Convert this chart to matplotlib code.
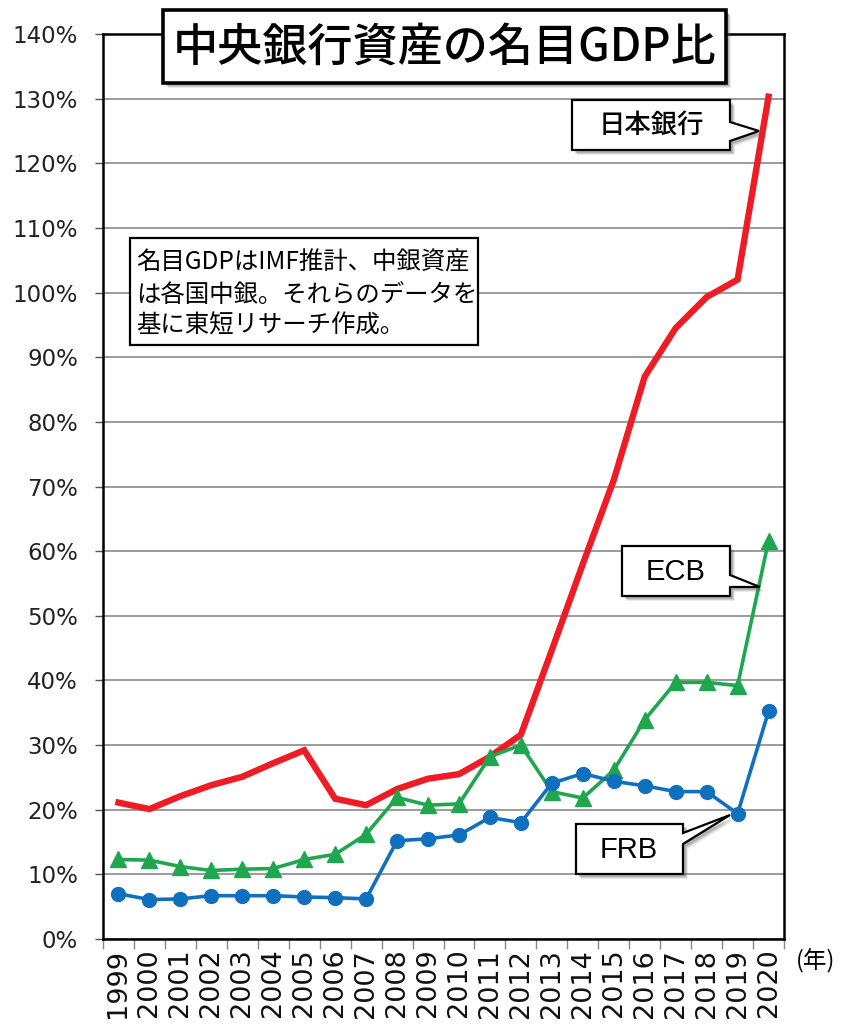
import matplotlib
matplotlib.use("Agg")
import matplotlib.pyplot as plt
from matplotlib.patches import Polygon, Rectangle

plt.rcParams['font.family'] = ['DejaVu Sans', 'Noto Sans CJK JP']

years = [str(y) for y in range(1999, 2021)]
boj = [21.1, 20.1, 22.1, 23.8, 25.1, 27.2, 29.2, 21.7, 20.7, 23.2, 24.8, 25.5,
       28.2, 31.6, 44.7, 58.0, 71.0, 87.0, 94.5, 99.3, 102.0, 130.3]
ecb = [12.3, 12.2, 11.2, 10.6, 10.8, 10.9, 12.3, 13.1, 16.2, 21.9, 20.7, 20.9,
       28.2, 30.0, 22.8, 21.8, 26.1, 33.9, 39.7, 39.7, 39.2, 61.6]
frb = [7.0, 6.1, 6.2, 6.7, 6.7, 6.7, 6.5, 6.4, 6.2, 15.2, 15.5, 16.1,
       18.8, 18.0, 24.1, 25.6, 24.4, 23.7, 22.8, 22.8, 19.4, 35.2]
yticks = list(range(0, 141, 10))

title = "中央銀行資産の名目GDP比"
note_lines = ["名目GDPはIMF推計、中銀資産", "は各国中銀。それらのデータを", "基に東短リサーチ作成。"]

W, H = 846, 1032
fig = plt.figure(figsize=(W / 100, H / 100), dpi=100)
L, R, T, B = 103, 784, 34, 939
ax = fig.add_axes([L / W, 1 - B / H, (R - L) / W, (B - T) / H])

x = list(range(len(years)))
red = '#EE1C25'
green = '#1FA64F'
blue = '#1170BE'
ax.plot(x, boj, color=red, lw=4.6, solid_joinstyle='miter', zorder=3)
ax.plot(x, ecb, color=green, lw=2.6, marker='^', ms=11, zorder=4)
ax.plot(x, frb, color=blue, lw=2.6, marker='o', ms=10, zorder=5)

ax.set_ylim(0, 140)
ax.set_xlim(-0.5, len(years) - 0.5)
ax.set_yticks(yticks)
ax.set_yticklabels([f"{v}%" for v in yticks], fontsize=16.5, color='#222222')
ax.grid(axis='y', color='#8a8a8a', lw=1.2)
ax.set_axisbelow(True)
ax.tick_params(axis='y', length=6, width=1, color='#555555', pad=12)

ax.set_xticks([i - 0.5 for i in range(len(years) + 1)])
ax.set_xticklabels([])
ax.set_xticks(x, minor=True)
ax.set_xticklabels(years, minor=True, rotation=90, fontsize=19.5,
                   family=['Liberation Sans Narrow', 'DejaVu Sans'], va='top',
                   color='#111111')
ax.tick_params(axis='x', which='major', length=7, width=1, color='#888888')
ax.tick_params(axis='x', which='minor', length=0, pad=7)
for s in ax.spines.values():
    s.set_color('black')
    s.set_linewidth(1.8)

# overlay in pixel coordinates for annotations
ov = fig.add_axes([0, 0, 1, 1], zorder=10)
ov.set_xlim(0, W)
ov.set_ylim(H, 0)
ov.axis('off')
ov.patch.set_alpha(0)

cjk = ['Noto Sans CJK JP', 'DejaVu Sans']


def shadowed(pts, lw=1.6, shadow=True):
    if shadow:
        for d, a in [(5, 0.12), (4, 0.18), (3, 0.25)]:
            ov.add_patch(Polygon([(px + d, py + d) for px, py in pts], closed=True,
                                 facecolor='#555555', edgecolor='none', alpha=a))
    ov.add_patch(Polygon(pts, closed=True, facecolor='white', edgecolor='black',
                         lw=lw, joinstyle='miter'))


def callout(x0, y0, x1, y1, ya, yb, tx, ty):
    return [(x0, y0), (x1, y0), (x1, ya), (tx, ty), (x1, yb), (x1, y1), (x0, y1)]


# title box
shadowed([(163, 10), (726, 10), (726, 83), (163, 83)], lw=2.6)
ov.text(445, 47, title, ha='center', va='center', fontsize=32.5, family=cjk,
        fontweight='medium', color='black')

# note box
ov.add_patch(Rectangle((130, 238), 348, 107, facecolor='white', edgecolor='black', lw=1.6))
for i, line in enumerate(note_lines):
    ov.text(136, 263 + i * 31.5, line, ha='left', va='center', fontsize=17.6,
            family=cjk, color='black')

# series labels
shadowed(callout(572, 100, 730, 150, 122, 141, 759, 131))
ov.text(651, 125, "日本銀行", ha='center', va='center', fontsize=19, family=cjk,
        fontweight='medium')
shadowed(callout(622, 546, 730, 596, 575, 587, 760, 587))
ov.text(676, 572, "ECB", ha='center', va='center', fontsize=21,
        family=['Liberation Sans', 'DejaVu Sans'])
shadowed(callout(576, 824, 683, 874, 833, 844, 730, 815))
ov.text(629, 850, "FRB", ha='center', va='center', fontsize=21,
        family=['Liberation Sans', 'DejaVu Sans'])

ov.text(816, 961, "(年)", ha='center', va='center', fontsize=17, family=cjk)

fig.savefig("out.png", dpi=100)
